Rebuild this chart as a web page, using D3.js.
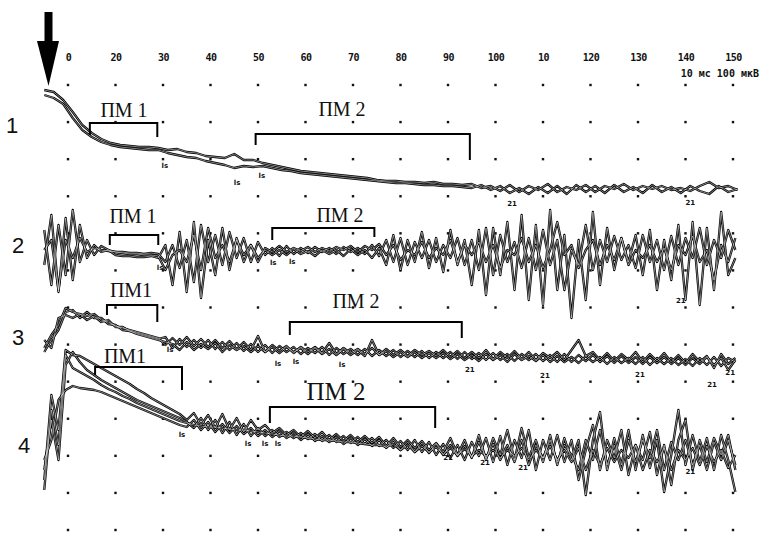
<!DOCTYPE html>
<html><head><meta charset="utf-8">
<script src="https://cdn.jsdelivr.net/npm/d3@7"></script>
<style>html,body{margin:0;padding:0;background:#fff;}svg{display:block;}</style>
</head><body>
<script>
// ---- axis / grid ----
const tickValues = [10,20,30,40,50,60,70,80,90,100,110,120,130,140,150];
const tickLabels = ["0","20","30","40","50","60","70","80","90","100","10","120","130","140","150"];
const rowLevels = [0,1,2,3,4,5,6,7,8,9,10,11,12];
const scaleText = "10 мс 100 мкВ";
const traceNames = ["1","2","3","4"];

// ---- sample times (ms) ----
const t1 = [5,7,9,11,13,15,17,19,21,23,25,27,29,31,33,35,37,39,41,43,45,47,49,51,53,55,57,59,61,63,65,67,69,71,73,75,77,79,81,83,85,87,89,91,93,95,97,99,101,103,105,107,109,111,113,115,117,119,121,123,125,127,129,131,133,135,137,139,141,143,145,147,149,151];
const t2 = [5,6.5,8,9.5,11,12.5,14,15.5,17,18.5,20,21.5,23,24.5,26,27.5,29,30.5,32,33.5,35,36.5,38,39.5,41,42.5,44,45.5,47,48.5,50,51.5,53,54.5,56,57.5,59,60.5,62,63.5,65,66.5,68,69.5,71,72.5,74,75.5,77,78.5,80,81.5,83,84.5,86,87.5,89,90.5,92,93.5,95,96.5,98,99.5,101,102.5,104,105.5,107,108.5,110,111.5,113,114.5,116,117.5,119,120.5,122,123.5,125,126.5,128,129.5,131,132.5,134,135.5,137,138.5,140,141.5,143,144.5,146,147.5,149,150.5];

// ---- panel 1 ----
const p1a = [107,105,97,85,72,64,58,54,52,51, 50,50,49,47,48,45,44,41,40,39, 43,37,37,34,32,30,28,26,25,24, 23,22,21,20,19,17,16,16,15,15, 14,15,13,13,12,13,9,11,6,12, 5,11,7,13,5,10,7,12,5,11, 8,13,7,11,8,11,7,9,6,11, 15,9,11,7];
const p1b = [102,99,93,79,67,60,55,52,50,49, 48,47,47,44,42,40,39,36,34,32, 29,31,30,31,29,27,26,24,23,22, 21,20,19,18,17,16,15,14,14,13, 12,12,11,11,10,9,12,7,11,4, 9,3,10,4,11,3,12,5,11,4, 12,5,10,4,12,5,10,4,11,6, 3,11,5,8];

// ---- panel 2 ----
const p2a = [18,-37,23,-27,38,-14,8,-7,2,-2, -4,-4,-5,-5,-6,-5,-6,-14,3,-20, 8,-34,23,-14,13,-17,16,-10,10,-14, 6,-7,0,-8,2,-6,0,-5,1,-4, 0,-6,1,-4,0,-6,3,-8,8,-14, 10,-17,6,-10,8,-14,3,-10,10,-17, 8,-22,20,-27,13,-14,6,-20,10,-22, 18,-17,8,-42,-2,-17,23,-22,8,-14, 12,-12,3,-20,13,-14,8,-22,12,-17, 10,-10,20,-17,8,-10,18,-2];
const p2b = [-17,33,-44,30,-32,23,-10,3,-4,-2, -7,-8,-8,-9,-9,-8,-10,3,-37,16, -44,26,-50,8,-27,20,-22,10,-14,3, -10,-2,-7,-2,-7,-1,-6,-3,-8,-2, -6,-2,-8,-1,-7,-2,-10,0,-17,13, -22,8,-14,16,-20,10,-24,18,-17,8, -37,18,-47,20,-27,26,-42,33,-52,23, -57,38,-42,13,-70,8,-52,36,-37,20, -22,10,-14,13,-27,18,-42,8,-32,23, -52,26,-57,20,-42,36,-27,-10];
const p2c = [-2,8,-42,8,-10,10,-4,0,-2,-3, -4,-5,-6,-6,-7,-7,-8,-22,-7,-2, -14,13,-22,20,-10,3,-14,8,-7,3, -14,0,-4,2,-4,0,-3,1,-4,0, -3,1,-2,2,-4,2,-2,4,-7,3, -12,-2,-7,6,-10,0,-7,8,-14,3, -7,6,-14,3,-20,-2,-7,10,-14,3, -20,-2,26,-7,3,-20,-2,8,-17,3, -12,10,-17,-2,-10,3,-14,0,-22,3, -7,12,-14,-2,-32,3,-14,10];

// ---- panel 3 ----
const p3a = [-3,10,20,37,33,31,29,31,25,23, 19,17,15,13,11,9,7,0,7,0, 8,-1,6,-2,5,-3,4,-4,3,-5, 9,-7,0,-6,-1,-8,-2,-7,-2,-8, 2,-9,-3,-8,-4,-9,-3,-10,-4,-10, -5,-11,-5,-10,-6,-11,-5,-12,-6,-13, -7,-13,-5,-14,-7,-13,-6,-14,-7,-15, -8,-13,-7,-15,-5,5,-11,-7,-15,-8, -16,-9,-15,-7,-17,-9,-16,-8,-17,-10, -18,-9,-17,-11,-23,-9,-19,-13];
const p3b = [-7,5,15,33,35,27,33,27,27,21, 20,15,14,12,10,8,6,8,-3,6, -2,5,-3,5,-4,3,-5,2,-6,1, -7,0,-8,-1,-7,-2,-9,-3,-8,-2, -10,-3,-9,-4,-10,-4,-11,-5,-11,-5, -12,-6,-12,-6,-13,-7,-13,-7,-14,-7, -14,-8,-15,-8,-15,-9,-16,-9,-15,-9, -16,-10,-17,-9,-17,-10,-16,-10,-17,-11, -18,-11,-18,-12,-19,-12,-18,-12,-19,-13, -20,-13,-19,-12,-20,-13,-25,-15];
const p3c = [5,-3,27,30,27,31,25,29,23,25, 18,18,14,11,9,7,5,3,1,-5, 3,-5,1,-4,2,-7,0,-5,-1,-7, -1,-7,-2,-8,-2,-7,-3,-9,-3,-9, -4,-10,-4,-10,-5,-11,5,-10,-6,-12, -7,-12,-7,-13,-8,-13,-8,-14,-9,-15, -10,-16,-9,-15,-10,-17,-9,-15,-11,-16, -10,-17,-11,-17,-12,-18,-11,-17,-12,-19, -12,-18,-13,-19,-12,-20,-13,-19,-13,-20, -14,-21,-13,-20,-12,-21,-13,-17];

// ---- panel 4 ----
const p4a = [-40,45,10,90,85,84,80,76,72,68, 64,60,56,51,47,42,38,34,30,26, 20,27,15,25,12,26,10,22,8,20, 10,15,7,12,5,10,3,9,2,8, 0,6,-1,5,-2,4,-3,3,-6,2, -7,0,-8,-1,-10,-3,-12,2,-15,0, -18,5,-20,2,-15,10,-20,12,-18,0, -22,5,-25,2,-20,0,-55,0,28,-30, 2,-25,10,-30,5,-28,0,-52,-15,30, -25,5,-22,2,-30,5,-20,-52];
const p4b = [-30,20,-20,75,88,78,70,65,60,56, 52,48,44,40,37,34,31,28,25,22, 18,12,22,10,20,7,18,5,16,4, 12,4,10,3,8,2,7,1,6,-1, 5,-2,4,-3,3,-4,2,-6,0,-8, -1,-10,0,-12,-2,-15,-4,-18,-5,-20, -2,-16,2,-22,4,-25,0,-18,10,-30, 0,-20,5,-22,0,-40,-10,15,-30,0, -18,10,-35,-5,-20,8,-35,-5,-45,0, 20,-30,0,-22,2,-15,5,-30];
const p4c = [-50,30,-5,85,72,68,64,60,55,51, 48,44,41,37,34,31,28,25,22,19, 17,15,14,13,13,12,11,10,10,9, 8,7,6,5,4,4,3,2,1,0, 0,-1,-2,-2,-3,-4,-5,-5,-7,-4, -10,-5,-12,-6,-12,-7,-14,-8,-15,-9, -16,-10,-16,-10,-18,-10,-16,-8,-20,-10, -18,-6,-20,-10,-22,-8,-30,-10,-25,-8, -22,-10,-18,-5,-30,-10,-22,-8,-30,-10, -20,-8,-25,-6,-22,-10,-28,-15];
const p4d = [-20,0,40,50,54,52,51,50,48,45, 42,39,36,33,30,27,24,21,18,15, 13,20,10,18,8,16,7,14,6,12, 4,10,3,9,2,7,0,6,-1,4, -2,3,-4,2,-5,1,-6,0,-8,0, -10,-2,-12,-3,-13,-4,-15,-5,-16,-6, -17,-2,-18,-4,-20,-5,-22,0,-25,-5, -18,0,-22,-5,-15,-30,0,-20,10,-25, -5,-30,0,-22,0,-18,10,-30,-2,-20, 0,-25,-5,-30,-2,-20,0,-25];

// ---- bracket annotations (ПМ intervals): panel, start ms, end ms ----
const bracketPanel = [0,0,1,1,2,2,3,3];
const bracketStart = [14.6,49.5,18.8,53,18.2,56.7,15.7,52.5];
const bracketEnd   = [28.8,94.6,29,74.5,28.8,92.9,34,87.3];
const bracketLabel = ["ПМ 1","ПМ 2","ПМ 1","ПМ 2","ПМ1","ПМ 2","ПМ1","ПМ 2"];

// ---- small cursor marks ----
const markPanel = [0,0,0,0,0, 1,1,1,1, 2,2,2,2,2,2,2,2,2, 3,3,3,3,3,3,3,3];
const markTime  = [30.4,45.6,50.8,103.5,141, 29.4,53.2,57.2,139, 31.5,54.2,58,67.7,94.6,110.4,130.4,145.6,149.4, 34,47.9,51.5,54.2,90,97.8,105.8,141];
const markValue = [29,12,19,-9,-8, -22,-17,-16,-55, -7,-21,-19,-22,-27,-33,-32,-42,-30, 3,-6,-6,-6,-20,-25,-30,-34];
const markText  = ["ls","ls","ls","21","21", "ls","ls","ls","21", "ls","ls","ls","ls","21","21","21","21","21", "ls","ls","ls","ls","21","21","21","21"];

// ================= drawing =================
const W = 760, H = 534;
const svg = d3.select("body").append("svg").attr("width", W).attr("height", H);

const x = d3.scaleLinear().domain([10,150]).range([68,733]);
const gridY = d3.scaleLinear().domain([0,12]).range([85,530]);
const panelBase = [197,248,345,440];
const ys = panelBase.map(b => d3.scaleLinear().domain([0,100]).range([b, b-100]));

// grid dots
const dotData = [];
tickValues.forEach(t => rowLevels.forEach(r => dotData.push([t,r])));
svg.append("g").selectAll("rect").data(dotData).join("rect")
  .attr("x", d => x(d[0]) - 1.2).attr("y", d => gridY(d[1]) - 1.2)
  .attr("width", 2.4).attr("height", 2.4).attr("fill", "#111");

// top axis labels
const axis = d3.axisTop(x).tickValues(tickValues).tickSize(0).tickPadding(0)
  .tickFormat((d,i) => tickLabels[i]);
const ag = svg.append("g").attr("transform", "translate(0,61)").call(axis);
ag.select(".domain").remove();
ag.selectAll("text").attr("font-family", "DejaVu Sans Mono").attr("font-weight", "bold")
  .attr("font-size", 10).attr("letter-spacing", -0.5).attr("fill", "#111");
svg.append("text").attr("x", 759).attr("y", 77).attr("text-anchor", "end")
  .attr("font-family", "DejaVu Sans Mono").attr("font-weight", "bold").attr("font-size", 10)
  .attr("fill", "#111").text(scaleText);

// arrow
svg.append("rect").attr("x", 44.5).attr("y", 12).attr("width", 8).attr("height", 30).attr("fill", "#000");
svg.append("path").attr("d", "M37,41 L59,41 L48.5,86 Z").attr("fill", "#000");

// row numbers
const numX = [12,18,18,24], numY = [133,253,345,453];
svg.append("g").selectAll("text").data(traceNames).join("text")
  .attr("x", (d,i) => numX[i]).attr("y", (d,i) => numY[i]).attr("text-anchor", "middle")
  .attr("font-family", "Liberation Sans").attr("font-size", 22).attr("fill", "#111").text(d => d);

// traces
const panels = [
  {t: t1, series: [p1a, p1b]},
  {t: t2, series: [p2a, p2b, p2c]},
  {t: t2, series: [p3a, p3b, p3c]},
  {t: t2, series: [p4a, p4b, p4c, p4d]}
];
const tg = svg.append("g");
panels.forEach((p, pi) => {
  const line = d3.line().x((d,i) => x(p.t[i])).y(d => ys[pi](d)).curve(d3.curveLinear);
  p.series.forEach(s => {
    tg.append("path").attr("d", line(s)).attr("fill", "none").attr("stroke", "#000")
      .attr("stroke-width", 2.3).attr("stroke-linejoin", "round");
  });
  p.series.forEach(s => {
    tg.append("path").attr("d", line(s)).attr("fill", "none").attr("stroke", "#fff")
      .attr("stroke-width", 0.6).attr("stroke-linejoin", "round").attr("opacity", 0.85);
  });
});

// brackets
const brTop   = [123,134,235,228,305,322,367,407];
const brLeftD = [135,145,245,240,315,335,375,423];
const brRightD= [137,160,245,237,322,338,390,428];
const lblY    = [117,116,223,222,297,308,363,400];
const lblX    = [124,342,133,340,131,356,125,336];
const lblSize = [20,20,20,20,20,20,20,25];
const bg = svg.append("g");
bracketPanel.forEach((p, i) => {
  const x0 = x(bracketStart[i]), x1 = x(bracketEnd[i]);
  bg.append("path").attr("d", `M${x0},${brLeftD[i]} L${x0},${brTop[i]} L${x1},${brTop[i]} L${x1},${brRightD[i]}`)
    .attr("fill", "none").attr("stroke", "#000").attr("stroke-width", 2);
  bg.append("text").attr("x", lblX[i]).attr("y", lblY[i]).attr("text-anchor", "middle")
    .attr("font-family", "Liberation Serif").attr("font-size", lblSize[i]).attr("fill", "#111")
    .text(bracketLabel[i]);
});

// cursor marks
svg.append("g").selectAll("text").data(markText).join("text")
  .attr("x", (d,i) => x(markTime[i])).attr("y", (d,i) => ys[markPanel[i]](markValue[i]))
  .attr("text-anchor", "middle").attr("font-family", "DejaVu Sans").attr("font-weight", "bold")
  .attr("font-size", 7).attr("fill", "#111").text(d => d);
</script>
</body></html>
